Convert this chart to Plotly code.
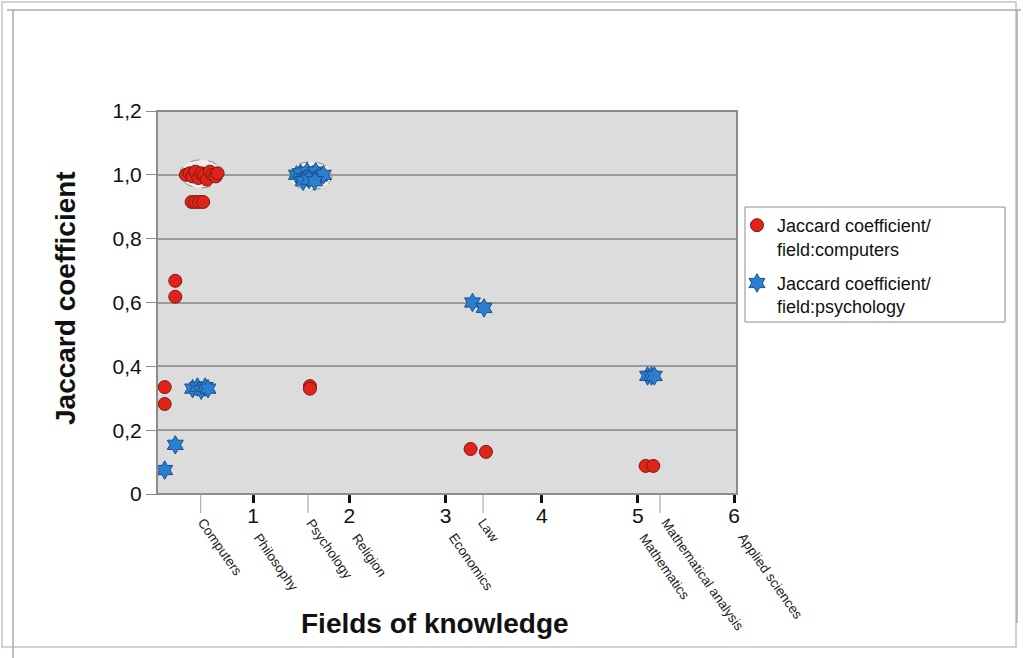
import plotly.graph_objects as go

# ---------------- data ----------------
comp_x = [0.30, 0.34, 0.37, 0.40, 0.43, 0.46, 0.49, 0.52, 0.55, 0.58, 0.61, 0.63,
          0.36, 0.40, 0.44, 0.48,
          0.19, 0.19,
          0.08, 0.08,
          1.59, 1.59,
          3.26, 3.42,
          5.08, 5.16]
comp_y = [1.000, 1.005, 0.995, 1.010, 0.990, 1.005, 1.000, 0.985, 1.010, 1.000, 0.995, 1.005,
          0.915, 0.915, 0.915, 0.915,
          0.668, 0.618,
          0.335, 0.282,
          0.338, 0.330,
          0.141, 0.132,
          0.088, 0.088]

psy_x = [1.45, 1.49, 1.53, 1.56, 1.59, 1.62, 1.65, 1.69, 1.73, 1.52, 1.58, 1.64,
         0.37, 0.42, 0.46, 0.50, 0.53,
         0.19,
         0.08,
         3.28, 3.40,
         5.10, 5.14, 5.17]
psy_y = [1.000, 1.005, 0.990, 1.010, 0.995, 1.000, 1.010, 0.995, 1.000, 0.980, 0.985, 0.980,
         0.330, 0.335, 0.325, 0.335, 0.330,
         0.154,
         0.075,
         0.600, 0.583,
         0.370, 0.370, 0.370]

field_labels = ["Computers", "Philosophy", "Psychology", "Religion", "Economics",
                "Law", "Mathematics", "Mathematical analysis", "Applied sciences"]
field_pos = [0.37, 0.95, 1.49, 1.97, 2.98, 3.28, 4.95, 5.18, 5.98]
field_line = [0.455, None, 1.57, None, None, 3.39, None, 5.23, None]

y_ticks = [0, 0.2, 0.4, 0.6, 0.8, 1.0, 1.2]
y_ticktext = ["0", "0,2", "0,4", "0,6", "0,8", "1,0", "1,2"]
x_ticks = [1, 2, 3, 4, 5, 6]

series_names = ["Jaccard coefficient/<br>field:computers",
                "Jaccard coefficient/<br>field:psychology"]

# cluster outlines (data coords)
clusters = [(0.24, 0.675, 0.959, 1.047), (1.38, 1.82, 0.953, 1.041)]

FONT = "Liberation Sans, Arial, sans-serif"
W, H = 1023, 658
L, R, T, B = 157, 737, 111, 494


def px_x(p):
    return (p - L) / (R - L)


def px_y(p):
    return (B - p) / (B - T)


fig = go.Figure()

fig.add_trace(go.Scatter(
    x=comp_x, y=comp_y, mode="markers", name=series_names[0], legendgroup="a",
    marker=dict(symbol="circle", size=13, color="#e2231a",
                line=dict(color="#7a1a14", width=1)),
))
fig.add_trace(go.Scatter(
    x=psy_x, y=psy_y, mode="markers", name=series_names[1], legendgroup="b",
    marker=dict(symbol="hexagram", size=14, color="#2b7fd0",
                line=dict(color="#1a4f8a", width=1)),
))

shapes = []
for x0, x1, y0, y1 in clusters:
    shapes.append(dict(type="circle", xref="x", yref="y", x0=x0, x1=x1, y0=y0, y1=y1,
                       line=dict(color="#8a8a8a", width=1, dash="dash"),
                       fillcolor="rgba(245,245,245,0.7)", layer="below"))
shapes.append(dict(type="rect", xref="paper", yref="paper", x0=0, x1=1, y0=0, y1=1,
                   line=dict(color="#8c8c8c", width=2)))
for xv in field_line:
    if xv is not None:
        shapes.append(dict(type="line", xref="x", yref="paper", x0=xv, x1=xv,
                           y0=0, y1=px_y(513), line=dict(color="#9a9a9a", width=1)))
shapes.append(dict(type="rect", xref="paper", yref="paper",
                   x0=px_x(745), x1=px_x(1005), y0=px_y(322), y1=px_y(207),
                   line=dict(color="#8c8c8c", width=1), fillcolor="white", layer="below"))
shapes.append(dict(type="rect", xref="paper", yref="paper",
                   x0=px_x(2), x1=px_x(1016), y0=px_y(647), y1=px_y(2),
                   line=dict(color="#c4c2d8", width=1.5)))
shapes.append(dict(type="line", xref="paper", yref="paper",
                   x0=px_x(7), x1=px_x(1021), y0=px_y(10), y1=px_y(10),
                   line=dict(color="#a8a8b0", width=1.5)))
shapes.append(dict(type="line", xref="paper", yref="paper",
                   x0=px_x(13), x1=px_x(13), y0=px_y(10), y1=px_y(658),
                   line=dict(color="#a8a8b0", width=1.5)))
shapes.append(dict(type="line", xref="paper", yref="paper",
                   x0=px_x(1017), x1=px_x(1017), y0=px_y(10), y1=px_y(623),
                   line=dict(color="#a8a8b0", width=1.5)))

annotations = []
for lab, xv in zip(field_labels, field_pos):
    is_int = abs(xv - round(xv)) < 0.1
    annotations.append(dict(x=xv, y=px_y(528 if is_int else 513), xref="x", yref="paper",
                            text=lab, showarrow=False, textangle=55,
                            xanchor="left", yanchor="top",
                            font=dict(family=FONT, size=13.5, color="#222")))
annotations.append(dict(x=px_x(435), y=px_y(623), xref="paper", yref="paper",
                        text="<b>Fields of knowledge</b>", showarrow=False,
                        xanchor="center", yanchor="middle",
                        font=dict(family=FONT, size=28, color="#111")))
annotations.append(dict(x=px_x(65), y=px_y(298), xref="paper", yref="paper",
                        text="<b>Jaccard coefficient</b>", showarrow=False, textangle=-90,
                        xanchor="center", yanchor="middle",
                        font=dict(family=FONT, size=28, color="#111")))

fig.update_layout(
    width=W, height=H,
    margin=dict(l=L, r=W - R, t=T, b=H - B),
    paper_bgcolor="white", plot_bgcolor="#dcdcdc",
    font=dict(family=FONT, color="#222"),
    shapes=shapes, annotations=annotations,
    showlegend=True,
    legend=dict(x=px_x(737), y=px_y(207), xanchor="left", yanchor="top",
                bgcolor="rgba(0,0,0,0)", borderwidth=0,
                font=dict(family=FONT, size=18, color="#111"),
                itemsizing="trace", itemwidth=30, valign="top",
                tracegroupgap=8),
    xaxis=dict(range=[0, 6.03], tickvals=x_ticks, ticktext=[str(v) for v in x_ticks],
               showgrid=False, zeroline=False, showline=False,
               ticks="outside", ticklen=8, tickwidth=2.5, tickcolor="#111",
               ticklabelstandoff=-5,
               tickfont=dict(family=FONT, size=21, color="#111")),
    yaxis=dict(range=[0, 1.2], tickvals=y_ticks, ticktext=y_ticktext,
               showgrid=True, gridcolor="#9a9a9a", gridwidth=1.5, zeroline=False,
               showline=False, ticks="outside", ticklen=10, tickwidth=1, tickcolor="#8c8c8c",
               tickfont=dict(family=FONT, size=21, color="#111")),
)

fig.write_html("out.html", config={"displayModeBar": False},
               post_script="document.body.style.margin='0';")
